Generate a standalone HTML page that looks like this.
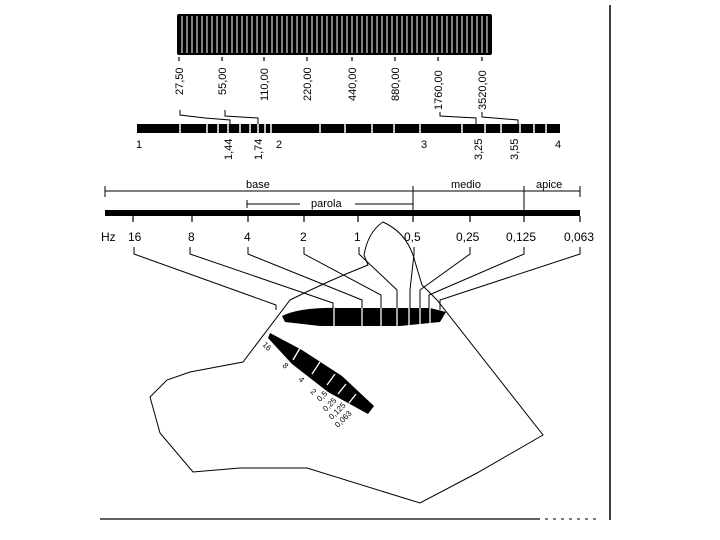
<!DOCTYPE html>
<html><head><meta charset="utf-8"><style>
html,body{margin:0;padding:0;background:#fff;width:720px;height:540px;overflow:hidden}
svg{display:block}
text{font-family:"Liberation Sans",sans-serif;fill:#000}
</style></head><body>
<svg width="720" height="540" viewBox="0 0 720 540" xmlns="http://www.w3.org/2000/svg">
<line x1="610" y1="5" x2="610" y2="520" stroke="#000" stroke-width="1.5"/>
<line x1="100" y1="519" x2="540" y2="519" stroke="#000" stroke-width="1.2"/>
<line x1="545" y1="519" x2="600" y2="519" stroke="#000" stroke-width="1" stroke-dasharray="3,5"/>
<rect x="177" y="14" width="315" height="41" fill="#000" rx="2"/>
<g stroke="#fff" stroke-width="1">
<path d="M182 16V53M187 16V53M192 16V53M197 16V53M202 16V53M207 16V53M212 16V53M217 16V53M222 16V53M227 16V53M232 16V53M237 16V53M242 16V53M247 16V53M252 16V53M257 16V53M262 16V53M267 16V53M272 16V53M277 16V53M282 16V53M287 16V53M292 16V53M297 16V53M302 16V53M307 16V53M312 16V53M317 16V53M322 16V53M327 16V53M332 16V53M337 16V53M342 16V53M347 16V53M352 16V53M357 16V53M362 16V53M367 16V53M372 16V53M377 16V53M382 16V53M387 16V53M392 16V53M397 16V53M402 16V53M407 16V53M412 16V53M417 16V53M422 16V53M427 16V53M432 16V53M437 16V53M442 16V53M447 16V53M452 16V53M457 16V53M462 16V53M467 16V53M472 16V53M477 16V53M482 16V53M487 16V53"/>
</g>
<g stroke="#000" stroke-width="1.2">
<path d="M179 57V61M222 57V61M264 57V61M307 57V61M352 57V61M395 57V61M438 57V61M482 57V61"/>
</g>
<g font-size="11">
<text transform="translate(183,95) rotate(-90)">27,50</text>
<text transform="translate(226,95) rotate(-90)">55,00</text>
<text transform="translate(268,101) rotate(-90)">110,00</text>
<text transform="translate(311,101) rotate(-90)">220,00</text>
<text transform="translate(356,101) rotate(-90)">440,00</text>
<text transform="translate(399,101) rotate(-90)">880,00</text>
<text transform="translate(442,110) rotate(-90)">1760,00</text>
<text transform="translate(486,110) rotate(-90)">3520,00</text>
</g>
<g fill="none" stroke="#000" stroke-width="1">
<path d="M180 110V115L205 118L230 120V126"/>
<path d="M225 110V116L258 118V126"/>
<path d="M440 112V116L476 118V126"/>
<path d="M482 112V117L518 120V126"/>
</g>
<rect x="137" y="124" width="423" height="9" fill="#000"/>
<g stroke="#fff" stroke-width="1.5">
<path d="M180 124V133M207 124V133M218 124V133M228 124V133M240 124V133M250 124V133M258 124V133M265 124V133M271 124V133M320 124V133M345 124V133M372 124V133M394 124V133M420 124V133M462 124V133M485 124V133M501 124V133M520 124V133M534 124V133M546 124V133"/>
</g>
<g font-size="11">
<text x="136" y="148">1</text>
<text transform="translate(232,160) rotate(-90)">1,44</text>
<text transform="translate(262,160) rotate(-90)">1,74</text>
<text x="276" y="148">2</text>
<text x="421" y="148">3</text>
<text transform="translate(482,160) rotate(-90)">3,25</text>
<text transform="translate(518,160) rotate(-90)">3,55</text>
<text x="555" y="148">4</text>
</g>
<g stroke="#000" stroke-width="1" fill="none">
<path d="M105 191H580M105 186V197M413 186V210M524 186V210M580 186V197"/>
<path d="M247 204H300M355 204H413M247 200V208"/>
</g>
<g font-size="11">
<text x="246" y="188">base</text>
<text x="451" y="188">medio</text>
<text x="536" y="188">apice</text>
<text x="311" y="207">parola</text>
</g>
<rect x="105" y="210" width="475" height="6" fill="#000"/>
<g stroke="#000" stroke-width="1.2">
<path d="M133 216V222M192 216V222M248 216V222M304 216V222M358 216V222M413 216V222M470 216V222M524 216V222M580 216V222"/>
</g>
<g font-size="12">
<text x="101" y="241">Hz</text>
<text x="128" y="241">16</text>
<text x="188" y="241">8</text>
<text x="244" y="241">4</text>
<text x="300" y="241">2</text>
<text x="354" y="241">1</text>
<text x="404" y="241">0,5</text>
<text x="456" y="241">0,25</text>
<text x="506" y="241">0,125</text>
<text x="564" y="241">0,063</text>
</g>
<g fill="none" stroke="#000" stroke-width="1">
<path d="M134 247V254L276 305V310"/>
<path d="M190 247V254L333 303V310"/>
<path d="M248 247V254L362 300V310"/>
<path d="M304 247V254L381 295V310"/>
<path d="M359 247V254L397 290V310"/>
<path d="M414 247V254L410 290V310"/>
<path d="M470 247V254L420 290V310"/>
<path d="M524 247V254L429 295V310"/>
<path d="M580 247V254L440 300V310"/>
</g>
<path d="M383 222Q368 232 364 255L368 265Q330 280 290 300L243 362L190 372L167 380L150 397L160 433L193 472L240 468L307 468L420 503L477 473L543 435L437 300L422 285L413 255Q405 232 383 222Z" fill="none" stroke="#000" stroke-width="1"/>
<path d="M282 316Q300 307 340 308L430 308L446 312L440 322L400 326L320 326L285 322Z" fill="#000"/>
<g stroke="#fff" stroke-width="1.3"><path d="M334 308V326M362 308V326M381 308V326M397 308V326M409 308V326M420 308V326M430 308V324"/></g>
<path d="M270 333L302 350L342 376L374 406L368 414L328 392L292 364L268 338Z" fill="#000"/>
<g stroke="#fff" stroke-width="1.3"><path d="M300 348L293 360M320 362L312 374M335 374L327 385M346 384L338 394M356 394L349 403"/></g>
<g font-size="8">
<text transform="translate(262,345) rotate(45)">16</text>
<text transform="translate(282,366) rotate(45)">8</text>
<text transform="translate(298,380) rotate(45)">4</text>
<text transform="translate(310,392) rotate(45)">2</text>
<text transform="translate(320,402) rotate(-45)">0,5</text>
<text transform="translate(326,412) rotate(-45)">0,25</text>
<text transform="translate(332,420) rotate(-45)">0,125</text>
<text transform="translate(338,428) rotate(-45)">0,063</text>
</g>
</svg>
</body></html>
